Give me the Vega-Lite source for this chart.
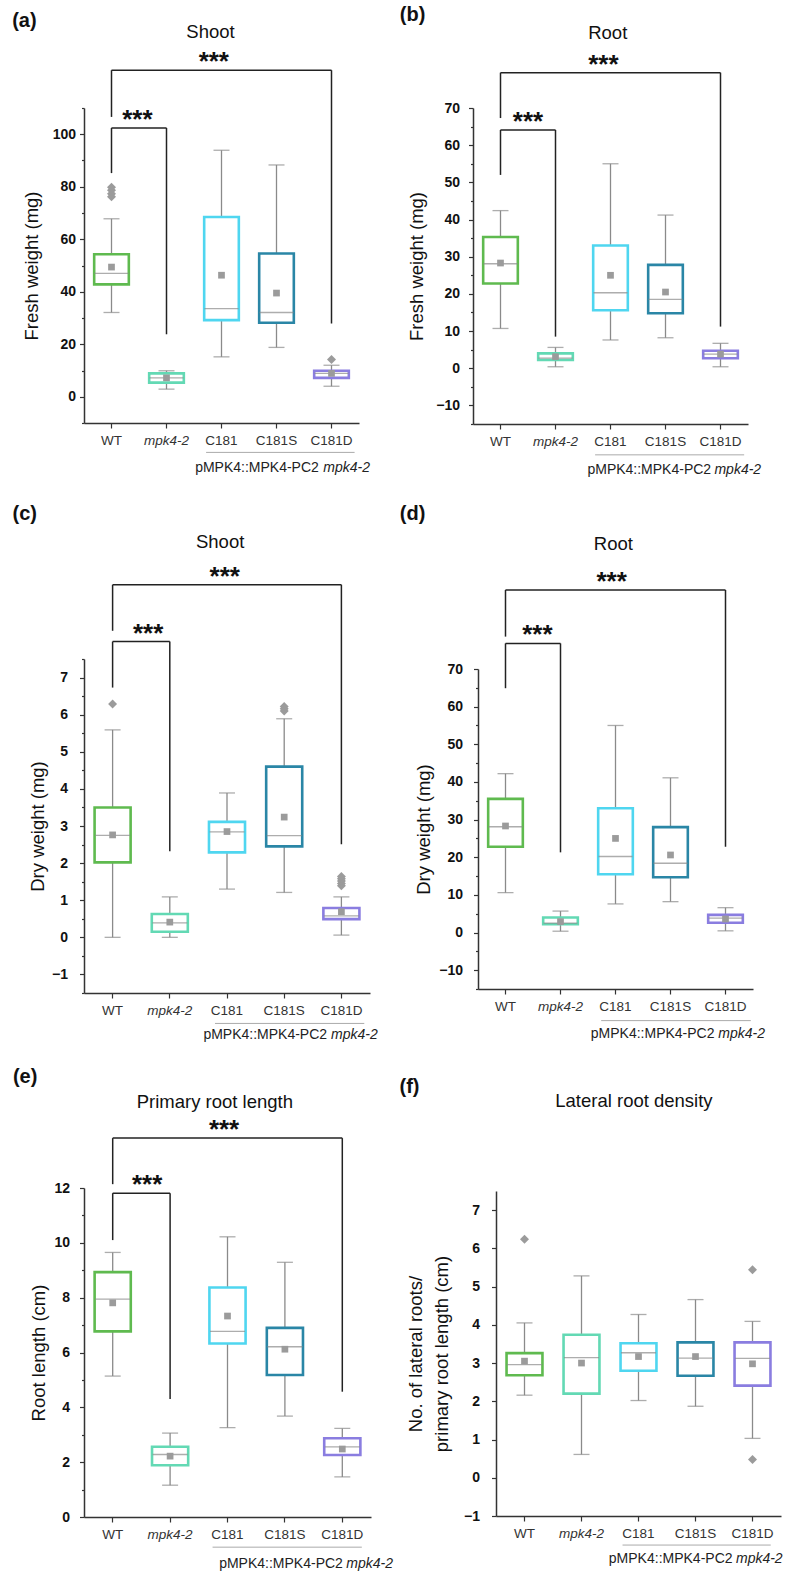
{
  "$schema": "https://vega.github.io/schema/vega-lite/v6.json",
  "padding": {"left": 12, "top": 5, "right": 5, "bottom": 5},
  "columns": 2,
  "align": "none",
  "bounds": "full",
  "spacing": {"row": 25, "column": 5},
  "config": {
    "font": "Liberation Sans",
    "view": {"stroke": null},
    "title": {"anchor": "start", "frame": "bounds", "fontSize": 20, "fontWeight": "bold", "color": "#111111"},
    "axisY": {"labelFontWeight": "bold", "labelFontSize": 14, "labelColor": "#111111", "titleFontSize": 18.5, "titleFontWeight": "normal", "titleColor": "#111111", "domainColor": "#333333", "tickColor": "#333333", "domainWidth": 1.5, "tickWidth": 1.2, "grid": false, "labelOverlap": false, "labelPadding": 4},
    "axisX": {"labelFontSize": 13.5, "labelColor": "#333333", "tickSize": 5, "labelPadding": 5, "labelAngle": 0, "grid": false, "domainColor": "#333333", "tickColor": "#333333", "domainWidth": 1.5, "tickWidth": 1.2}
  },
  "concat": [
    {
      "title": {"text": "(a)", "dx": -10, "offset": -8},
      "width": 275, "height": 315,
      "data": {"values": [
        {"g": "WT", "lo": 32.1, "q1": 42.8, "med": 47.0, "q3": 54.3, "hi": 67.8, "mean": 49.4},
        {"g": "mpk4-2", "lo": 2.9, "q1": 5.4, "med": 7.2, "q3": 8.9, "hi": 9.9, "mean": 7.2},
        {"g": "C181", "lo": 15.2, "q1": 29.2, "med": 33.6, "q3": 68.5, "hi": 93.9, "mean": 46.3},
        {"g": "C181S", "lo": 18.8, "q1": 28.2, "med": 32.1, "q3": 54.6, "hi": 88.3, "mean": 39.5},
        {"g": "C181D", "lo": 4.0, "q1": 7.2, "med": 8.9, "q3": 9.9, "hi": 12.0, "mean": 8.9}
      ]},
      "encoding": {"x": {"field": "g", "type": "nominal", "scale": {"domain": ["WT", "mpk4-2", "C181", "C181S", "C181D"], "paddingInner": 0, "paddingOuter": 0}, "axis": {"title": null, "labelFontStyle": {"condition": {"test": "datum.value === 'mpk4-2'", "value": "italic"}, "value": "normal"}}}},
      "layer": [
        {"mark": {"type": "rule", "color": "#8a8a8a", "strokeWidth": 1.3}, "encoding": {"y": {"field": "q3", "type": "quantitative", "scale": {"domain": [-10, 110], "nice": false, "zero": false}, "axis": {"title": "Fresh weight (mg)", "tickCount": 200, "format": "d", "values": [-10, 0, 10, 20, 30, 40, 50, 60, 70, 80, 90, 100, 110], "labelExpr": "datum.value % 20 === 0 ? datum.label : ''", "tickSize": {"condition": {"test": "datum.value % 20 !== 0", "value": 2.5}, "value": 4.5}, "titlePadding": 11, "labelPadding": 4}}, "y2": {"field": "hi"}}},
        {"mark": {"type": "rule", "color": "#8a8a8a", "strokeWidth": 1.3}, "encoding": {"y": {"field": "lo", "type": "quantitative"}, "y2": {"field": "q1"}}},
        {"mark": {"type": "tick", "color": "#8a8a8a", "thickness": 1.3, "size": 16}, "encoding": {"y": {"field": "hi", "type": "quantitative"}}},
        {"mark": {"type": "tick", "color": "#8a8a8a", "thickness": 1.3, "size": 16}, "encoding": {"y": {"field": "lo", "type": "quantitative"}}},
        {"mark": {"type": "bar", "fill": "white", "strokeWidth": 2.6, "width": {"band": 0.63}}, "encoding": {"y": {"field": "q1", "type": "quantitative"}, "y2": {"field": "q3"}, "stroke": {"field": "g", "type": "nominal", "scale": {"domain": ["WT", "mpk4-2", "C181", "C181S", "C181D"], "range": ["#5fba4f", "#63d9b4", "#4fd6f0", "#2a86a6", "#8a7de0"]}, "legend": null}}},
        {"mark": {"type": "tick", "color": "#8a8a8a", "thickness": 1.3, "size": 34}, "encoding": {"y": {"field": "med", "type": "quantitative"}}},
        {"mark": {"type": "point", "shape": "square", "filled": true, "color": "#9b9b9b", "opacity": 1, "size": 45}, "encoding": {"y": {"field": "mean", "type": "quantitative"}}},
        {"data": {"values": [{"g": "WT", "v": 76.2}, {"g": "WT", "v": 77.3}, {"g": "WT", "v": 78.7}, {"g": "WT", "v": 79.8}, {"g": "C181D", "v": 14.2}]}, "mark": {"type": "point", "shape": "diamond", "filled": true, "color": "#9b9b9b", "opacity": 1, "size": 80}, "encoding": {"y": {"field": "v", "type": "quantitative"}}},
        {"data": {"values": [
          {"xa": "WT", "xb": "WT", "ya": 85.2, "yb": 102.4},
          {"xa": "WT", "xb": "mpk4-2", "ya": 102.4, "yb": 102.4},
          {"xa": "mpk4-2", "xb": "mpk4-2", "ya": 23.8, "yb": 102.4},
          {"xa": "WT", "xb": "WT", "ya": 106.6, "yb": 124.4},
          {"xa": "WT", "xb": "C181D", "ya": 124.4, "yb": 124.4},
          {"xa": "C181D", "xb": "C181D", "ya": 27.9, "yb": 124.4}
        ]}, "mark": {"type": "rule", "color": "#222222", "strokeWidth": 1.5}, "encoding": {"x": {"field": "xa", "type": "nominal"}, "x2": {"field": "xb"}, "y": {"field": "ya", "type": "quantitative"}, "y2": {"field": "yb"}}},
        {"data": {"values": [{"g": "WT", "y": 102.4, "t": "***"}]}, "mark": {"type": "text", "fontSize": 26, "fontWeight": "bold", "baseline": "alphabetic", "color": "#111111"}, "encoding": {"x": {"field": "g", "type": "nominal", "bandPosition": 0.97}, "y": {"field": "y", "type": "quantitative"}, "text": {"field": "t"}}},
        {"data": {"values": [{"g": "C181", "y": 124.4, "t": "***"}]}, "mark": {"type": "text", "fontSize": 26, "fontWeight": "bold", "baseline": "alphabetic", "color": "#111111"}, "encoding": {"x": {"field": "g", "type": "nominal", "bandPosition": 0.36}, "y": {"field": "y", "type": "quantitative"}, "text": {"field": "t"}}},
        {"data": {"values": [{"g": "C181", "y": 139.1, "t": "Shoot"}]}, "mark": {"type": "text", "fontSize": 18.5, "baseline": "middle", "color": "#111111"}, "encoding": {"x": {"field": "g", "type": "nominal", "bandPosition": 0.3}, "y": {"field": "y", "type": "quantitative"}, "text": {"field": "t"}}},
        {"data": {"values": [{"a": "C181", "b": "C181D", "y": -21.2}]}, "mark": {"type": "rule", "color": "#aaaaaa", "strokeWidth": 1}, "encoding": {"x": {"field": "a", "type": "nominal", "bandPosition": 0.22}, "x2": {"field": "b", "bandPosition": 0.92}, "y": {"field": "y", "type": "quantitative"}}},
        {"data": {"values": [{"g": "C181D", "y": -27.3, "t": "pMPK4::MPK4-PC2"}]}, "mark": {"type": "text", "fontSize": 14, "align": "right", "baseline": "middle", "color": "#222222"}, "encoding": {"x": {"field": "g", "type": "nominal", "bandPosition": 0.27}, "y": {"field": "y", "type": "quantitative"}, "text": {"field": "t"}}},
        {"data": {"values": [{"g": "C181D", "y": -27.3, "t": "mpk4-2"}]}, "mark": {"type": "text", "fontSize": 14, "fontStyle": "italic", "align": "left", "baseline": "middle", "color": "#222222"}, "encoding": {"x": {"field": "g", "type": "nominal", "bandPosition": 0.35}, "y": {"field": "y", "type": "quantitative"}, "text": {"field": "t"}}}
      ]
    },
    {
      "title": {"text": "(b)", "dx": -8, "offset": -1},
      "width": 275, "height": 316,
      "data": {"values": [
        {"g": "WT", "lo": 10.7, "q1": 22.8, "med": 28.1, "q3": 35.3, "hi": 42.4, "mean": 28.3},
        {"g": "mpk4-2", "lo": 0.4, "q1": 2.2, "med": 2.7, "q3": 4.0, "hi": 5.6, "mean": 3.1},
        {"g": "C181", "lo": 7.6, "q1": 15.6, "med": 20.3, "q3": 33.0, "hi": 55.0, "mean": 25.0},
        {"g": "C181S", "lo": 8.2, "q1": 14.8, "med": 18.5, "q3": 27.8, "hi": 41.2, "mean": 20.5},
        {"g": "C181D", "lo": 0.4, "q1": 2.7, "med": 3.8, "q3": 4.7, "hi": 6.7, "mean": 3.8}
      ]},
      "encoding": {"x": {"field": "g", "type": "nominal", "scale": {"domain": ["WT", "mpk4-2", "C181", "C181S", "C181D"], "paddingInner": 0, "paddingOuter": 0}, "axis": {"title": null, "labelFontStyle": {"condition": {"test": "datum.value === 'mpk4-2'", "value": "italic"}, "value": "normal"}}}},
      "layer": [
        {"mark": {"type": "rule", "color": "#8a8a8a", "strokeWidth": 1.3}, "encoding": {"y": {"field": "q3", "type": "quantitative", "scale": {"domain": [-15, 70], "nice": false, "zero": false}, "axis": {"title": "Fresh weight (mg)", "tickCount": 200, "format": "d", "values": [-15, -10, -5, 0, 5, 10, 15, 20, 25, 30, 35, 40, 45, 50, 55, 60, 65, 70], "labelExpr": "datum.value % 10 === 0 ? datum.label : ''", "tickSize": {"condition": {"test": "datum.value % 10 !== 0", "value": 2.5}, "value": 4.5}, "titlePadding": 9, "labelPadding": 9}}, "y2": {"field": "hi"}}},
        {"mark": {"type": "rule", "color": "#8a8a8a", "strokeWidth": 1.3}, "encoding": {"y": {"field": "lo", "type": "quantitative"}, "y2": {"field": "q1"}}},
        {"mark": {"type": "tick", "color": "#8a8a8a", "thickness": 1.3, "size": 16}, "encoding": {"y": {"field": "hi", "type": "quantitative"}}},
        {"mark": {"type": "tick", "color": "#8a8a8a", "thickness": 1.3, "size": 16}, "encoding": {"y": {"field": "lo", "type": "quantitative"}}},
        {"mark": {"type": "bar", "fill": "white", "strokeWidth": 2.6, "width": {"band": 0.63}}, "encoding": {"y": {"field": "q1", "type": "quantitative"}, "y2": {"field": "q3"}, "stroke": {"field": "g", "type": "nominal", "scale": {"domain": ["WT", "mpk4-2", "C181", "C181S", "C181D"], "range": ["#5fba4f", "#63d9b4", "#4fd6f0", "#2a86a6", "#8a7de0"]}, "legend": null}}},
        {"mark": {"type": "tick", "color": "#8a8a8a", "thickness": 1.3, "size": 34}, "encoding": {"y": {"field": "med", "type": "quantitative"}}},
        {"mark": {"type": "point", "shape": "square", "filled": true, "color": "#9b9b9b", "opacity": 1, "size": 45}, "encoding": {"y": {"field": "mean", "type": "quantitative"}}},
        {"data": {"values": [
          {"xa": "WT", "xb": "WT", "ya": 52.0, "yb": 64.1},
          {"xa": "WT", "xb": "mpk4-2", "ya": 64.1, "yb": 64.1},
          {"xa": "mpk4-2", "xb": "mpk4-2", "ya": 8.5, "yb": 64.1},
          {"xa": "WT", "xb": "WT", "ya": 67.3, "yb": 79.5},
          {"xa": "WT", "xb": "C181D", "ya": 79.5, "yb": 79.5},
          {"xa": "C181D", "xb": "C181D", "ya": 11.2, "yb": 79.5}
        ]}, "mark": {"type": "rule", "color": "#222222", "strokeWidth": 1.5}, "encoding": {"x": {"field": "xa", "type": "nominal"}, "x2": {"field": "xb"}, "y": {"field": "ya", "type": "quantitative"}, "y2": {"field": "yb"}}},
        {"data": {"values": [{"g": "mpk4-2", "y": 64.1, "t": "***"}]}, "mark": {"type": "text", "fontSize": 26, "fontWeight": "bold", "baseline": "alphabetic", "color": "#111111"}, "encoding": {"x": {"field": "g", "type": "nominal", "bandPosition": 0.0}, "y": {"field": "y", "type": "quantitative"}, "text": {"field": "t"}}},
        {"data": {"values": [{"g": "C181", "y": 79.5, "t": "***"}]}, "mark": {"type": "text", "fontSize": 26, "fontWeight": "bold", "baseline": "alphabetic", "color": "#111111"}, "encoding": {"x": {"field": "g", "type": "nominal", "bandPosition": 0.37}, "y": {"field": "y", "type": "quantitative"}, "text": {"field": "t"}}},
        {"data": {"values": [{"g": "C181", "y": 90.1, "t": "Root"}]}, "mark": {"type": "text", "fontSize": 18.5, "baseline": "middle", "color": "#111111"}, "encoding": {"x": {"field": "g", "type": "nominal", "bandPosition": 0.45}, "y": {"field": "y", "type": "quantitative"}, "text": {"field": "t"}}},
        {"data": {"values": [{"a": "C181", "b": "C181D", "y": -23.3}]}, "mark": {"type": "rule", "color": "#aaaaaa", "strokeWidth": 1}, "encoding": {"x": {"field": "a", "type": "nominal", "bandPosition": 0.22}, "x2": {"field": "b", "bandPosition": 0.93}, "y": {"field": "y", "type": "quantitative"}}},
        {"data": {"values": [{"g": "C181D", "y": -27.4, "t": "pMPK4::MPK4-PC2"}]}, "mark": {"type": "text", "fontSize": 14, "align": "right", "baseline": "middle", "color": "#222222"}, "encoding": {"x": {"field": "g", "type": "nominal", "bandPosition": 0.33}, "y": {"field": "y", "type": "quantitative"}, "text": {"field": "t"}}},
        {"data": {"values": [{"g": "C181D", "y": -27.4, "t": "mpk4-2"}]}, "mark": {"type": "text", "fontSize": 14, "fontStyle": "italic", "align": "left", "baseline": "middle", "color": "#222222"}, "encoding": {"x": {"field": "g", "type": "nominal", "bandPosition": 0.39}, "y": {"field": "y", "type": "quantitative"}, "text": {"field": "t"}}}
      ]
    },
    {
      "title": {"text": "(c)", "dx": -16, "offset": 9.5},
      "width": 286, "height": 334,
      "data": {"values": [
        {"g": "WT", "lo": 0.0, "q1": 2.02, "med": 2.75, "q3": 3.5, "hi": 5.59, "mean": 2.76},
        {"g": "mpk4-2", "lo": 0.0, "q1": 0.15, "med": 0.39, "q3": 0.63, "hi": 1.09, "mean": 0.41},
        {"g": "C181", "lo": 1.3, "q1": 2.29, "med": 2.84, "q3": 3.11, "hi": 3.89, "mean": 2.85},
        {"g": "C181S", "lo": 1.21, "q1": 2.45, "med": 2.74, "q3": 4.6, "hi": 5.89, "mean": 3.24},
        {"g": "C181D", "lo": 0.06, "q1": 0.49, "med": 0.58, "q3": 0.79, "hi": 1.09, "mean": 0.69}
      ]},
      "encoding": {"x": {"field": "g", "type": "nominal", "scale": {"domain": ["WT", "mpk4-2", "C181", "C181S", "C181D"], "paddingInner": 0, "paddingOuter": 0}, "axis": {"title": null, "labelFontStyle": {"condition": {"test": "datum.value === 'mpk4-2'", "value": "italic"}, "value": "normal"}}}},
      "layer": [
        {"mark": {"type": "rule", "color": "#8a8a8a", "strokeWidth": 1.3}, "encoding": {"y": {"field": "q3", "type": "quantitative", "scale": {"domain": [-1.5, 7.5], "nice": false, "zero": false}, "axis": {"title": "Dry weight (mg)", "tickCount": 200, "values": [-1.5, -1, -0.5, 0, 0.5, 1, 1.5, 2, 2.5, 3, 3.5, 4, 4.5, 5, 5.5, 6, 6.5, 7, 7.5], "labelExpr": "abs(datum.value - round(datum.value)) < 0.01 ? format(round(datum.value), 'd') : ''", "tickSize": {"condition": {"test": "abs(datum.value - round(datum.value)) > 0.01", "value": 2.5}, "value": 4.5}, "titlePadding": 4, "labelPadding": 12}}, "y2": {"field": "hi"}}},
        {"mark": {"type": "rule", "color": "#8a8a8a", "strokeWidth": 1.3}, "encoding": {"y": {"field": "lo", "type": "quantitative"}, "y2": {"field": "q1"}}},
        {"mark": {"type": "tick", "color": "#8a8a8a", "thickness": 1.3, "size": 16}, "encoding": {"y": {"field": "hi", "type": "quantitative"}}},
        {"mark": {"type": "tick", "color": "#8a8a8a", "thickness": 1.3, "size": 16}, "encoding": {"y": {"field": "lo", "type": "quantitative"}}},
        {"mark": {"type": "bar", "fill": "white", "strokeWidth": 2.6, "width": {"band": 0.63}}, "encoding": {"y": {"field": "q1", "type": "quantitative"}, "y2": {"field": "q3"}, "stroke": {"field": "g", "type": "nominal", "scale": {"domain": ["WT", "mpk4-2", "C181", "C181S", "C181D"], "range": ["#5fba4f", "#63d9b4", "#4fd6f0", "#2a86a6", "#8a7de0"]}, "legend": null}}},
        {"mark": {"type": "tick", "color": "#8a8a8a", "thickness": 1.3, "size": 35}, "encoding": {"y": {"field": "med", "type": "quantitative"}}},
        {"mark": {"type": "point", "shape": "square", "filled": true, "color": "#9b9b9b", "opacity": 1, "size": 45}, "encoding": {"y": {"field": "mean", "type": "quantitative"}}},
        {"data": {"values": [{"g": "WT", "v": 6.29}, {"g": "C181S", "v": 6.1}, {"g": "C181S", "v": 6.16}, {"g": "C181S", "v": 6.22}, {"g": "C181D", "v": 1.39}, {"g": "C181D", "v": 1.45}, {"g": "C181D", "v": 1.52}, {"g": "C181D", "v": 1.58}, {"g": "C181D", "v": 1.64}]}, "mark": {"type": "point", "shape": "diamond", "filled": true, "color": "#9b9b9b", "opacity": 1, "size": 80}, "encoding": {"y": {"field": "v", "type": "quantitative"}}},
        {"data": {"values": [
          {"xa": "WT", "xb": "WT", "ya": 6.73, "yb": 7.97},
          {"xa": "WT", "xb": "mpk4-2", "ya": 7.97, "yb": 7.97},
          {"xa": "mpk4-2", "xb": "mpk4-2", "ya": 2.32, "yb": 7.97},
          {"xa": "WT", "xb": "WT", "ya": 8.26, "yb": 9.5},
          {"xa": "WT", "xb": "C181D", "ya": 9.5, "yb": 9.5},
          {"xa": "C181D", "xb": "C181D", "ya": 2.51, "yb": 9.5}
        ]}, "mark": {"type": "rule", "color": "#222222", "strokeWidth": 1.5}, "encoding": {"x": {"field": "xa", "type": "nominal"}, "x2": {"field": "xb"}, "y": {"field": "ya", "type": "quantitative"}, "y2": {"field": "yb"}}},
        {"data": {"values": [{"g": "mpk4-2", "y": 7.97, "t": "***"}]}, "mark": {"type": "text", "fontSize": 26, "fontWeight": "bold", "baseline": "alphabetic", "color": "#111111"}, "encoding": {"x": {"field": "g", "type": "nominal", "bandPosition": 0.12}, "y": {"field": "y", "type": "quantitative"}, "text": {"field": "t"}}},
        {"data": {"values": [{"g": "C181", "y": 9.5, "t": "***"}]}, "mark": {"type": "text", "fontSize": 26, "fontWeight": "bold", "baseline": "alphabetic", "color": "#111111"}, "encoding": {"x": {"field": "g", "type": "nominal", "bandPosition": 0.46}, "y": {"field": "y", "type": "quantitative"}, "text": {"field": "t"}}},
        {"data": {"values": [{"g": "C181", "y": 10.65, "t": "Shoot"}]}, "mark": {"type": "text", "fontSize": 18.5, "baseline": "middle", "color": "#111111"}, "encoding": {"x": {"field": "g", "type": "nominal", "bandPosition": 0.38}, "y": {"field": "y", "type": "quantitative"}, "text": {"field": "t"}}},
        {"data": {"values": [{"a": "C181", "b": "C181D", "y": -2.32}]}, "mark": {"type": "rule", "color": "#aaaaaa", "strokeWidth": 1}, "encoding": {"x": {"field": "a", "type": "nominal", "bandPosition": 0.29}, "x2": {"field": "b", "bandPosition": 0.9}, "y": {"field": "y", "type": "quantitative"}}},
        {"data": {"values": [{"g": "C181D", "y": -2.62, "t": "pMPK4::MPK4-PC2"}]}, "mark": {"type": "text", "fontSize": 14, "align": "right", "baseline": "middle", "color": "#222222"}, "encoding": {"x": {"field": "g", "type": "nominal", "bandPosition": 0.25}, "y": {"field": "y", "type": "quantitative"}, "text": {"field": "t"}}},
        {"data": {"values": [{"g": "C181D", "y": -2.62, "t": "mpk4-2"}]}, "mark": {"type": "text", "fontSize": 14, "fontStyle": "italic", "align": "left", "baseline": "middle", "color": "#222222"}, "encoding": {"x": {"field": "g", "type": "nominal", "bandPosition": 0.32}, "y": {"field": "y", "type": "quantitative"}, "text": {"field": "t"}}}
      ]
    },
    {
      "title": {"text": "(d)", "dx": -15, "offset": 11.5},
      "width": 275, "height": 320,
      "data": {"values": [
        {"g": "WT", "lo": 10.6, "q1": 22.8, "med": 28.1, "q3": 35.5, "hi": 42.2, "mean": 28.3},
        {"g": "mpk4-2", "lo": 0.35, "q1": 2.2, "med": 2.5, "q3": 4.0, "hi": 5.7, "mean": 2.9},
        {"g": "C181", "lo": 7.6, "q1": 15.5, "med": 20.2, "q3": 33.0, "hi": 55.0, "mean": 25.0},
        {"g": "C181S", "lo": 8.2, "q1": 14.7, "med": 18.4, "q3": 28.0, "hi": 41.1, "mean": 20.6},
        {"g": "C181D", "lo": 0.45, "q1": 2.6, "med": 3.8, "q3": 4.7, "hi": 6.6, "mean": 3.6}
      ]},
      "encoding": {"x": {"field": "g", "type": "nominal", "scale": {"domain": ["WT", "mpk4-2", "C181", "C181S", "C181D"], "paddingInner": 0, "paddingOuter": 0}, "axis": {"title": null, "labelFontStyle": {"condition": {"test": "datum.value === 'mpk4-2'", "value": "italic"}, "value": "normal"}}}},
      "layer": [
        {"mark": {"type": "rule", "color": "#8a8a8a", "strokeWidth": 1.3}, "encoding": {"y": {"field": "q3", "type": "quantitative", "scale": {"domain": [-15, 70], "nice": false, "zero": false}, "axis": {"title": "Dry weight (mg)", "tickCount": 200, "format": "d", "values": [-15, -10, -5, 0, 5, 10, 15, 20, 25, 30, 35, 40, 45, 50, 55, 60, 65, 70], "labelExpr": "datum.value % 10 === 0 ? datum.label : ''", "tickSize": {"condition": {"test": "datum.value % 10 !== 0", "value": 2.5}, "value": 4.5}, "titlePadding": 5, "labelPadding": 11}}, "y2": {"field": "hi"}}},
        {"mark": {"type": "rule", "color": "#8a8a8a", "strokeWidth": 1.3}, "encoding": {"y": {"field": "lo", "type": "quantitative"}, "y2": {"field": "q1"}}},
        {"mark": {"type": "tick", "color": "#8a8a8a", "thickness": 1.3, "size": 16}, "encoding": {"y": {"field": "hi", "type": "quantitative"}}},
        {"mark": {"type": "tick", "color": "#8a8a8a", "thickness": 1.3, "size": 16}, "encoding": {"y": {"field": "lo", "type": "quantitative"}}},
        {"mark": {"type": "bar", "fill": "white", "strokeWidth": 2.6, "width": {"band": 0.63}}, "encoding": {"y": {"field": "q1", "type": "quantitative"}, "y2": {"field": "q3"}, "stroke": {"field": "g", "type": "nominal", "scale": {"domain": ["WT", "mpk4-2", "C181", "C181S", "C181D"], "range": ["#5fba4f", "#63d9b4", "#4fd6f0", "#2a86a6", "#8a7de0"]}, "legend": null}}},
        {"mark": {"type": "tick", "color": "#8a8a8a", "thickness": 1.3, "size": 34}, "encoding": {"y": {"field": "med", "type": "quantitative"}}},
        {"mark": {"type": "point", "shape": "square", "filled": true, "color": "#9b9b9b", "opacity": 1, "size": 45}, "encoding": {"y": {"field": "mean", "type": "quantitative"}}},
        {"data": {"values": [
          {"xa": "WT", "xb": "WT", "ya": 64.9, "yb": 76.8},
          {"xa": "WT", "xb": "mpk4-2", "ya": 76.8, "yb": 76.8},
          {"xa": "mpk4-2", "xb": "mpk4-2", "ya": 21.3, "yb": 76.8},
          {"xa": "WT", "xb": "WT", "ya": 78.6, "yb": 91.0},
          {"xa": "WT", "xb": "C181D", "ya": 91.0, "yb": 91.0},
          {"xa": "C181D", "xb": "C181D", "ya": 22.8, "yb": 91.0}
        ]}, "mark": {"type": "rule", "color": "#222222", "strokeWidth": 1.5}, "encoding": {"x": {"field": "xa", "type": "nominal"}, "x2": {"field": "xb"}, "y": {"field": "ya", "type": "quantitative"}, "y2": {"field": "yb"}}},
        {"data": {"values": [{"g": "mpk4-2", "y": 76.8, "t": "***"}]}, "mark": {"type": "text", "fontSize": 26, "fontWeight": "bold", "baseline": "alphabetic", "color": "#111111"}, "encoding": {"x": {"field": "g", "type": "nominal", "bandPosition": 0.08}, "y": {"field": "y", "type": "quantitative"}, "text": {"field": "t"}}},
        {"data": {"values": [{"g": "C181", "y": 91.0, "t": "***"}]}, "mark": {"type": "text", "fontSize": 26, "fontWeight": "bold", "baseline": "alphabetic", "color": "#111111"}, "encoding": {"x": {"field": "g", "type": "nominal", "bandPosition": 0.43}, "y": {"field": "y", "type": "quantitative"}, "text": {"field": "t"}}},
        {"data": {"values": [{"g": "C181", "y": 103.1, "t": "Root"}]}, "mark": {"type": "text", "fontSize": 18.5, "baseline": "middle", "color": "#111111"}, "encoding": {"x": {"field": "g", "type": "nominal", "bandPosition": 0.46}, "y": {"field": "y", "type": "quantitative"}, "text": {"field": "t"}}},
        {"data": {"values": [{"a": "C181", "b": "C181D", "y": -23.4}]}, "mark": {"type": "rule", "color": "#aaaaaa", "strokeWidth": 1}, "encoding": {"x": {"field": "a", "type": "nominal", "bandPosition": 0.24}, "x2": {"field": "b", "bandPosition": 0.96}, "y": {"field": "y", "type": "quantitative"}}},
        {"data": {"values": [{"g": "C181D", "y": -27.0, "t": "pMPK4::MPK4-PC2"}]}, "mark": {"type": "text", "fontSize": 14, "align": "right", "baseline": "middle", "color": "#222222"}, "encoding": {"x": {"field": "g", "type": "nominal", "bandPosition": 0.3}, "y": {"field": "y", "type": "quantitative"}, "text": {"field": "t"}}},
        {"data": {"values": [{"g": "C181D", "y": -27.0, "t": "mpk4-2"}]}, "mark": {"type": "text", "fontSize": 14, "fontStyle": "italic", "align": "left", "baseline": "middle", "color": "#222222"}, "encoding": {"x": {"field": "g", "type": "nominal", "bandPosition": 0.37}, "y": {"field": "y", "type": "quantitative"}, "text": {"field": "t"}}}
      ]
    },
    {
      "title": {"text": "(e)", "dx": -17, "offset": 6},
      "width": 287, "height": 329,
      "data": {"values": [
        {"g": "WT", "lo": 5.14, "q1": 6.77, "med": 7.95, "q3": 8.93, "hi": 9.65, "mean": 7.81},
        {"g": "mpk4-2", "lo": 1.16, "q1": 1.89, "med": 2.28, "q3": 2.56, "hi": 3.06, "mean": 2.22},
        {"g": "C181", "lo": 3.26, "q1": 6.33, "med": 6.77, "q3": 8.37, "hi": 10.22, "mean": 7.33},
        {"g": "C181S", "lo": 3.68, "q1": 5.18, "med": 6.21, "q3": 6.9, "hi": 9.29, "mean": 6.12},
        {"g": "C181D", "lo": 1.46, "q1": 2.26, "med": 2.56, "q3": 2.87, "hi": 3.23, "mean": 2.48}
      ]},
      "encoding": {"x": {"field": "g", "type": "nominal", "scale": {"domain": ["WT", "mpk4-2", "C181", "C181S", "C181D"], "paddingInner": 0, "paddingOuter": 0}, "axis": {"title": null, "labelFontStyle": {"condition": {"test": "datum.value === 'mpk4-2'", "value": "italic"}, "value": "normal"}}}},
      "layer": [
        {"mark": {"type": "rule", "color": "#8a8a8a", "strokeWidth": 1.3}, "encoding": {"y": {"field": "q3", "type": "quantitative", "scale": {"domain": [0, 12], "nice": false, "zero": false}, "axis": {"title": "Root length (cm)", "tickCount": 200, "format": "d", "values": [0, 1, 2, 3, 4, 5, 6, 7, 8, 9, 10, 11, 12], "labelExpr": "datum.value % 2 === 0 ? datum.label : ''", "tickSize": {"condition": {"test": "datum.value % 2 !== 0", "value": 2.5}, "value": 4.5}, "titlePadding": 5, "labelPadding": 10}}, "y2": {"field": "hi"}}},
        {"mark": {"type": "rule", "color": "#8a8a8a", "strokeWidth": 1.3}, "encoding": {"y": {"field": "lo", "type": "quantitative"}, "y2": {"field": "q1"}}},
        {"mark": {"type": "tick", "color": "#8a8a8a", "thickness": 1.3, "size": 16}, "encoding": {"y": {"field": "hi", "type": "quantitative"}}},
        {"mark": {"type": "tick", "color": "#8a8a8a", "thickness": 1.3, "size": 16}, "encoding": {"y": {"field": "lo", "type": "quantitative"}}},
        {"mark": {"type": "bar", "fill": "white", "strokeWidth": 2.6, "width": {"band": 0.63}}, "encoding": {"y": {"field": "q1", "type": "quantitative"}, "y2": {"field": "q3"}, "stroke": {"field": "g", "type": "nominal", "scale": {"domain": ["WT", "mpk4-2", "C181", "C181S", "C181D"], "range": ["#5fba4f", "#63d9b4", "#4fd6f0", "#2a86a6", "#8a7de0"]}, "legend": null}}},
        {"mark": {"type": "tick", "color": "#8a8a8a", "thickness": 1.3, "size": 35}, "encoding": {"y": {"field": "med", "type": "quantitative"}}},
        {"mark": {"type": "point", "shape": "square", "filled": true, "color": "#9b9b9b", "opacity": 1, "size": 45}, "encoding": {"y": {"field": "mean", "type": "quantitative"}}},
        {"data": {"values": [
          {"xa": "WT", "xb": "WT", "ya": 10.1, "yb": 11.81},
          {"xa": "WT", "xb": "mpk4-2", "ya": 11.81, "yb": 11.81},
          {"xa": "mpk4-2", "xb": "mpk4-2", "ya": 4.3, "yb": 11.81},
          {"xa": "WT", "xb": "WT", "ya": 12.14, "yb": 13.82},
          {"xa": "WT", "xb": "C181D", "ya": 13.82, "yb": 13.82},
          {"xa": "C181D", "xb": "C181D", "ya": 4.57, "yb": 13.82}
        ]}, "mark": {"type": "rule", "color": "#222222", "strokeWidth": 1.5}, "encoding": {"x": {"field": "xa", "type": "nominal"}, "x2": {"field": "xb"}, "y": {"field": "ya", "type": "quantitative"}, "y2": {"field": "yb"}}},
        {"data": {"values": [{"g": "mpk4-2", "y": 11.81, "t": "***"}]}, "mark": {"type": "text", "fontSize": 26, "fontWeight": "bold", "baseline": "alphabetic", "color": "#111111"}, "encoding": {"x": {"field": "g", "type": "nominal", "bandPosition": 0.1}, "y": {"field": "y", "type": "quantitative"}, "text": {"field": "t"}}},
        {"data": {"values": [{"g": "C181", "y": 13.82, "t": "***"}]}, "mark": {"type": "text", "fontSize": 26, "fontWeight": "bold", "baseline": "alphabetic", "color": "#111111"}, "encoding": {"x": {"field": "g", "type": "nominal", "bandPosition": 0.44}, "y": {"field": "y", "type": "quantitative"}, "text": {"field": "t"}}},
        {"data": {"values": [{"g": "C181", "y": 15.13, "t": "Primary root length"}]}, "mark": {"type": "text", "fontSize": 18.5, "baseline": "middle", "color": "#111111"}, "encoding": {"x": {"field": "g", "type": "nominal", "bandPosition": 0.28}, "y": {"field": "y", "type": "quantitative"}, "text": {"field": "t"}}},
        {"data": {"values": [{"a": "C181", "b": "C181D", "y": -1.1}]}, "mark": {"type": "rule", "color": "#aaaaaa", "strokeWidth": 1}, "encoding": {"x": {"field": "a", "type": "nominal", "bandPosition": 0.24}, "x2": {"field": "b", "bandPosition": 0.84}, "y": {"field": "y", "type": "quantitative"}}},
        {"data": {"values": [{"g": "C181D", "y": -1.71, "t": "pMPK4::MPK4-PC2"}]}, "mark": {"type": "text", "fontSize": 14, "align": "right", "baseline": "middle", "color": "#222222"}, "encoding": {"x": {"field": "g", "type": "nominal", "bandPosition": 0.51}, "y": {"field": "y", "type": "quantitative"}, "text": {"field": "t"}}},
        {"data": {"values": [{"g": "C181D", "y": -1.71, "t": "mpk4-2"}]}, "mark": {"type": "text", "fontSize": 14, "fontStyle": "italic", "align": "left", "baseline": "middle", "color": "#222222"}, "encoding": {"x": {"field": "g", "type": "nominal", "bandPosition": 0.57}, "y": {"field": "y", "type": "quantitative"}, "text": {"field": "t"}}}
      ]
    },
    {
      "title": {"text": "(f)", "dx": -7, "offset": -5},
      "width": 285, "height": 325,
      "data": {"values": [
        {"g": "WT", "lo": 2.16, "q1": 2.68, "med": 2.96, "q3": 3.26, "hi": 4.05, "mean": 3.05},
        {"g": "mpk4-2", "lo": 0.61, "q1": 2.2, "med": 3.14, "q3": 3.74, "hi": 5.28, "mean": 3.0},
        {"g": "C181", "lo": 2.02, "q1": 2.8, "med": 3.27, "q3": 3.52, "hi": 4.27, "mean": 3.17},
        {"g": "C181S", "lo": 1.87, "q1": 2.67, "med": 3.13, "q3": 3.54, "hi": 4.66, "mean": 3.17},
        {"g": "C181D", "lo": 1.03, "q1": 2.41, "med": 3.12, "q3": 3.54, "hi": 4.09, "mean": 2.98}
      ]},
      "encoding": {"x": {"field": "g", "type": "nominal", "scale": {"domain": ["WT", "mpk4-2", "C181", "C181S", "C181D"], "paddingInner": 0, "paddingOuter": 0}, "axis": {"title": null, "labelFontStyle": {"condition": {"test": "datum.value === 'mpk4-2'", "value": "italic"}, "value": "normal"}}}},
      "layer": [
        {"mark": {"type": "rule", "color": "#8a8a8a", "strokeWidth": 1.3}, "encoding": {"y": {"field": "q3", "type": "quantitative", "scale": {"domain": [-1, 7.5], "nice": false, "zero": false}, "axis": {"title": ["No. of lateral roots/", "primary root length (cm)"], "titleLineHeight": 26, "tickCount": 200, "format": "d", "values": [-1, -0.5, 0, 0.5, 1, 1.5, 2, 2.5, 3, 3.5, 4, 4.5, 5, 5.5, 6, 6.5, 7, 7.5], "labelExpr": "datum.value % 1 === 0 ? datum.label : ''", "tickSize": {"condition": {"test": "datum.value % 1 !== 0", "value": 2.5}, "value": 4.5}, "titlePadding": 12, "labelPadding": 12}}, "y2": {"field": "hi"}}},
        {"mark": {"type": "rule", "color": "#8a8a8a", "strokeWidth": 1.3}, "encoding": {"y": {"field": "lo", "type": "quantitative"}, "y2": {"field": "q1"}}},
        {"mark": {"type": "tick", "color": "#8a8a8a", "thickness": 1.3, "size": 16}, "encoding": {"y": {"field": "hi", "type": "quantitative"}}},
        {"mark": {"type": "tick", "color": "#8a8a8a", "thickness": 1.3, "size": 16}, "encoding": {"y": {"field": "lo", "type": "quantitative"}}},
        {"mark": {"type": "bar", "fill": "white", "strokeWidth": 2.6, "width": {"band": 0.63}}, "encoding": {"y": {"field": "q1", "type": "quantitative"}, "y2": {"field": "q3"}, "stroke": {"field": "g", "type": "nominal", "scale": {"domain": ["WT", "mpk4-2", "C181", "C181S", "C181D"], "range": ["#5fba4f", "#63d9b4", "#4fd6f0", "#2a86a6", "#8a7de0"]}, "legend": null}}},
        {"mark": {"type": "tick", "color": "#8a8a8a", "thickness": 1.3, "size": 35}, "encoding": {"y": {"field": "med", "type": "quantitative"}}},
        {"mark": {"type": "point", "shape": "square", "filled": true, "color": "#9b9b9b", "opacity": 1, "size": 45}, "encoding": {"y": {"field": "mean", "type": "quantitative"}}},
        {"data": {"values": [{"g": "WT", "v": 6.24}, {"g": "C181D", "v": 5.44}, {"g": "C181D", "v": 0.48}]}, "mark": {"type": "point", "shape": "diamond", "filled": true, "color": "#9b9b9b", "opacity": 1, "size": 80}, "encoding": {"y": {"field": "v", "type": "quantitative"}}},
        {"data": {"values": [{"g": "C181", "y": 9.85, "t": "Lateral root density"}]}, "mark": {"type": "text", "fontSize": 18.5, "baseline": "middle", "color": "#111111"}, "encoding": {"x": {"field": "g", "type": "nominal", "bandPosition": 0.42}, "y": {"field": "y", "type": "quantitative"}, "text": {"field": "t"}}},
        {"data": {"values": [{"a": "C181", "b": "C181D", "y": -1.76}]}, "mark": {"type": "rule", "color": "#aaaaaa", "strokeWidth": 1}, "encoding": {"x": {"field": "a", "type": "nominal", "bandPosition": 0.22}, "x2": {"field": "b", "bandPosition": 0.82}, "y": {"field": "y", "type": "quantitative"}}},
        {"data": {"values": [{"g": "C181D", "y": -2.13, "t": "pMPK4::MPK4-PC2"}]}, "mark": {"type": "text", "fontSize": 14, "align": "right", "baseline": "middle", "color": "#222222"}, "encoding": {"x": {"field": "g", "type": "nominal", "bandPosition": 0.15}, "y": {"field": "y", "type": "quantitative"}, "text": {"field": "t"}}},
        {"data": {"values": [{"g": "C181D", "y": -2.13, "t": "mpk4-2"}]}, "mark": {"type": "text", "fontSize": 14, "fontStyle": "italic", "align": "left", "baseline": "middle", "color": "#222222"}, "encoding": {"x": {"field": "g", "type": "nominal", "bandPosition": 0.21}, "y": {"field": "y", "type": "quantitative"}, "text": {"field": "t"}}}
      ]
    }
  ]
}
